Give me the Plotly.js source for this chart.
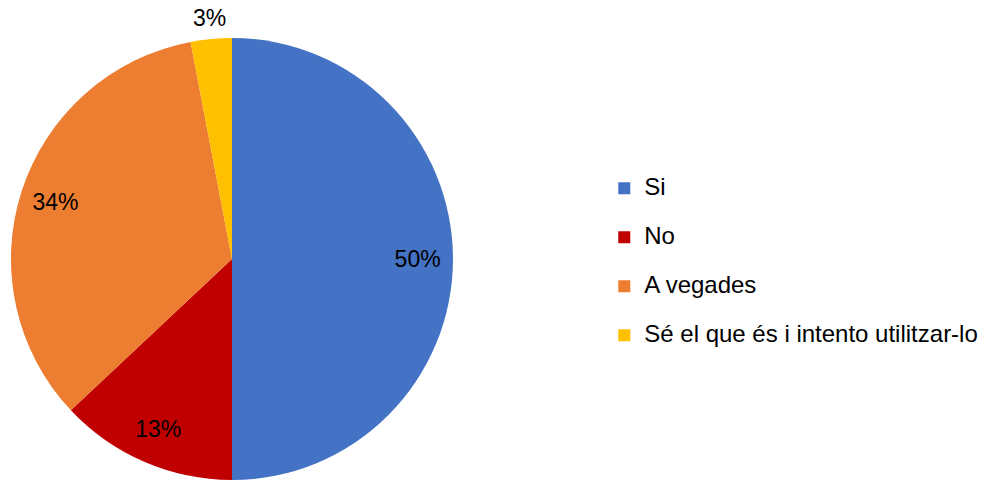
<!DOCTYPE html>
<html>
<head>
<meta charset="utf-8">
<script src="https://cdn.plot.ly/plotly-3.0.1.min.js"></script>
<style>html,body{margin:0;padding:0;background:#fff;}#chart{width:989px;height:481px;}</style>
</head>
<body>
<div id="chart"></div>
<script>
const labels = ["Si", "No", "A vegades", "Sé el que és i intento utilitzar-lo"];
const values = [50, 13, 34, 3];
const colors = ["#4472C4", "#C00000", "#ED7D31", "#FFC000"];
const insideLabel = [true, true, true, false];

const W = 989, H = 481;
const FONT = "'Liberation Sans', Arial, sans-serif";
const domX = [0.0111, 0.458], domY = [0.002, 0.921];

const total = values.reduce((a, b) => a + b, 0);
const pctText = values.map(v => Math.round(v / total * 100) + "%");

// main pie (colours + legend)
const mainPie = {
  type: "pie",
  labels: labels.map(l => '<span style="font-size:24px">' + l + '</span><br> '),
  values: values,
  sort: false,
  direction: "clockwise",
  rotation: 0,
  marker: {colors: colors, line: {color: "#ffffff", width: 0}},
  textinfo: "none",
  domain: {x: domX, y: domY},
  hoverinfo: "skip"
};

// transparent ring overlay that carries the inside percentage labels
const labelRing = {
  type: "pie",
  labels: labels,
  values: values,
  sort: false,
  direction: "clockwise",
  rotation: 0,
  hole: 0.68,
  showlegend: false,
  marker: {colors: values.map(() => "rgba(0,0,0,0)"), line: {width: 0}},
  text: pctText.map((t, i) => insideLabel[i] ? t : ""),
  textinfo: "text",
  textposition: "inside",
  insidetextorientation: "horizontal",
  textfont: {family: FONT, size: 23, color: "#000000"},
  domain: {x: domX, y: domY},
  hoverinfo: "skip"
};

// outside label for the small slice, placed along its mid angle
const cxPx = (domX[0] + domX[1]) / 2 * W;
const cyPx = (domY[0] + domY[1]) / 2 * H;
const rPx = Math.min((domX[1] - domX[0]) * W, (domY[1] - domY[0]) * H) / 2;
const annotations = [];
let cum = 0;
values.forEach((v, i) => {
  const mid = (cum + v / 2) / total * 2 * Math.PI;
  cum += v;
  if (!insideLabel[i]) {
    const r = rPx * 1.095;
    annotations.push({
      xref: "paper", yref: "paper",
      x: (cxPx + Math.sin(mid) * r) / W,
      y: (cyPx + Math.cos(mid) * r) / H,
      xanchor: "center", yanchor: "middle",
      text: pctText[i], showarrow: false,
      font: {family: FONT, size: 23, color: "#000000"}
    });
  }
});

const layout = {
  width: W,
  height: H,
  margin: {l: 0, r: 0, t: 0, b: 0},
  paper_bgcolor: "#ffffff",
  showlegend: true,
  legend: {
    x: 0.611, xanchor: "left",
    y: 0.431, yanchor: "middle",
    valign: "top",
    font: {family: FONT, size: 17.7, color: "#000000"},
    traceorder: "normal"
  },
  annotations: annotations,
  font: {family: FONT}
};

Plotly.newPlot("chart", [mainPie, labelRing], layout, {displayModeBar: false, staticPlot: true});
</script>
</body>
</html>
